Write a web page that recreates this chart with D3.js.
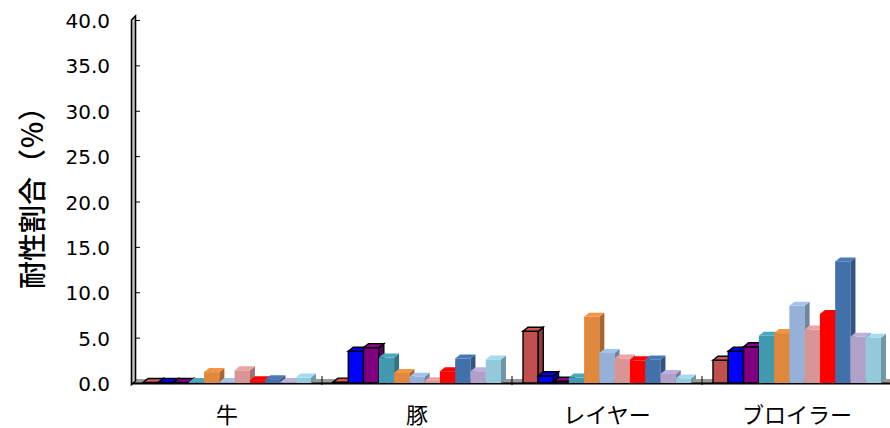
<!DOCTYPE html>
<html>
<head>
<meta charset="utf-8">
<script src="https://cdn.jsdelivr.net/npm/d3@7"></script>
<style>
  html, body { margin: 0; padding: 0; background: #fff; }
  svg { display: block; }
</style>
</head>
<body>
<svg id="chart" width="890" height="428"></svg>
<script>
// Categories along the x axis
const categories = ["牛", "豚", "レイヤー", "ブロイラー"];

// Resistance ratio (%) for each series, one value per category (牛, 豚, レイヤー, ブロイラー)
const series01 = [0.05, 0.1, 5.7, 2.5];
const series02 = [0.05, 3.5, 0.8, 3.5];
const series03 = [0.05, 3.9, 0.2, 4.0];
const series04 = [0.1, 2.8, 0.6, 5.2];
const series05 = [1.2, 1.1, 7.3, 5.5];
const series06 = [0.1, 0.7, 3.3, 8.5];
const series07 = [1.4, 0.2, 2.7, 5.9];
const series08 = [0.3, 1.3, 2.5, 7.6];
const series09 = [0.4, 2.7, 2.6, 13.4];
const series10 = [0.1, 1.3, 1.0, 5.1];
const series11 = [0.6, 2.6, 0.5, 5.0];
const seriesValues = [series01, series02, series03, series04, series05, series06,
                      series07, series08, series09, series10, series11];

// Front-face colours of the series
const seriesColors = ["#C0504D", "#0000FF", "#800080", "#4399AF", "#E0883C", "#95B1D8",
                      "#D99595", "#FF0000", "#4170AA", "#AFA1C8", "#93C9DB"];
// Series drawn with a black outline
const outlined = [true, true, true, false, false, false, false, false, false, false, false];

// Y axis ticks
const yTicks = [0, 5, 10, 15, 20, 25, 30, 35, 40];
const yTitle = "耐性割合（％）";

const svg = d3.select("#chart");

const x = d3.scaleBand().domain(categories).range([132, 892]).padding(0);
const xs = d3.scaleBand().domain(d3.range(seriesValues.length)).range([11, 179]).padding(0);
const y = d3.scaleLinear().domain([0, 40]).range([383, 20]);

// depth offset of the pseudo-3D bars
const dx = 5, dy = 4;

// Floor
const y0 = y(0);
svg.append("polygon")
  .attr("points", [[131, y0], [889, y0], [893, y0 - dy], [136, y0 - dy]].join(" "))
  .attr("fill", "#9a9a9a").attr("stroke", "none");
svg.append("line")
  .attr("x1", 131).attr("x2", 890).attr("y1", y0 + 0.5).attr("y2", y0 + 0.5)
  .attr("stroke", "#000").attr("stroke-width", 2);

// Category separators on the floor
svg.append("g").selectAll("line")
  .data(categories.slice(1))
  .join("line")
  .attr("x1", d => x(d)).attr("x2", d => x(d))
  .attr("y1", y0 - 7).attr("y2", y0 + 2)
  .attr("stroke", "#000").attr("stroke-width", 1);

// Side wall (y axis)
svg.append("polygon")
  .attr("points", [[131.5, y0 + 1.5], [131.5, 20], [135.5, 16], [135.5, y0 - 2]].join(" "))
  .attr("fill", "#c8c8c8").attr("stroke", "#000").attr("stroke-width", 1.6);

// Bars
const barW = xs.bandwidth();
const cat = svg.append("g").selectAll("g")
  .data(categories)
  .join("g")
  .attr("transform", d => `translate(${x(d)},0)`);

cat.each(function(c, ci) {
  const g = d3.select(this);
  seriesValues.forEach((vals, si) => {
    const v = vals[ci];
    const bx = xs(si);
    const yt = y(v);
    const base = d3.color(seriesColors[si]);
    const stroke = outlined[si] ? "#000" : "none";
    const sw = outlined[si] ? 1.4 : 0;
    const bar = g.append("g");
    // front
    bar.append("rect")
      .attr("x", bx).attr("y", yt)
      .attr("width", barW).attr("height", Math.max(0, y0 - yt))
      .attr("fill", base.formatHex())
      .attr("stroke", stroke).attr("stroke-width", sw);
    // right side
    bar.append("polygon")
      .attr("points", [[bx + barW, yt], [bx + barW + dx, yt - dy], [bx + barW + dx, y0 - dy], [bx + barW, y0]].join(" "))
      .attr("fill", base.darker(0.8).formatHex())
      .attr("stroke", stroke).attr("stroke-width", sw);
    // top
    bar.append("polygon")
      .attr("points", [[bx, yt], [bx + dx, yt - dy], [bx + barW + dx, yt - dy], [bx + barW, yt]].join(" "))
      .attr("fill", base.brighter(0.25).formatHex())
      .attr("stroke", stroke).attr("stroke-width", sw);
  });
});

// Y axis ticks and labels
const yAxis = d3.axisLeft(y)
  .tickValues(yTicks)
  .tickFormat(d3.format(".1f"))
  .tickSizeInner(-4)
  .tickSizeOuter(0)
  .tickPadding(26);
const ya = svg.append("g").attr("transform", "translate(136,0)").call(yAxis);
ya.select(".domain").remove();
ya.selectAll(".tick line").attr("stroke", "#000");
ya.selectAll(".tick text")
  .attr("font-family", "'DejaVu Sans', sans-serif")
  .attr("font-size", 20)
  .attr("fill", "#000")
  .attr("dy", "0.38em");

// X axis labels
const xa = svg.append("g").attr("transform", `translate(0,${y0})`)
  .call(d3.axisBottom(x).tickSize(0).tickPadding(0));
xa.select(".domain").remove();
xa.selectAll(".tick text")
  .attr("font-family", "'Noto Sans CJK JP', sans-serif")
  .attr("font-size", 22)
  .attr("fill", "#000")
  .attr("dy", 0)
  .attr("y", 40);

// Y axis title
svg.append("text")
  .attr("transform", "translate(31,191) rotate(-90)")
  .attr("text-anchor", "middle")
  .attr("dominant-baseline", "central")
  .attr("font-family", "'Noto Sans CJK JP', sans-serif")
  .attr("font-size", 28)
  .attr("font-weight", 500)
  .attr("fill", "#000")
  .text(yTitle);
</script>
</body>
</html>
